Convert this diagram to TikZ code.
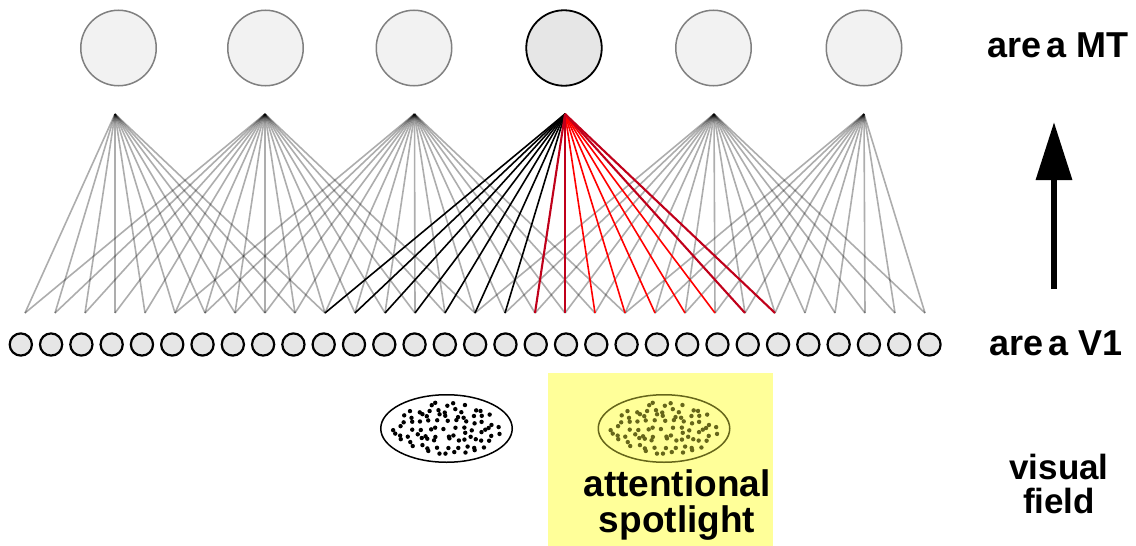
\documentclass[tikz,border=0pt]{standalone}
\usepackage{fontspec}
\setmainfont{Liberation Sans}
\usetikzlibrary{arrows.meta,shapes.geometric}
\definecolor{spotyellow}{HTML}{FFFF99}
\definecolor{olivedot}{HTML}{66661A}
\definecolor{deepred}{HTML}{C0001A}
\definecolor{mtgray}{HTML}{808080}
\definecolor{mtfill}{HTML}{F2F2F2}
\definecolor{selfill}{HTML}{E6E6E6}
\begin{document}
\begin{tikzpicture}[x=1pt,y=-1pt,
  mtcell/.style={circle,draw=mtgray,fill=mtfill,line width=1.5pt,minimum size=75.5pt,inner sep=0pt},
  mtsel/.style={mtcell,draw=black,fill=selfill,line width=1.8pt},
  vcell/.style={circle,draw=black,fill=selfill,line width=2.2pt,minimum size=22.2pt,inner sep=0pt},
  graylink/.style={draw=black,opacity=0.32,line width=1.6pt},
  blacklink/.style={draw=black,line width=1.6pt},
  redlink/.style={draw=red,line width=1.6pt},
  deeplink/.style={draw=deepred,line width=2.1pt},
  lab/.style={font=\fontsize{36}{36}\selectfont\bfseries,inner sep=0pt,align=center},
  rfield/.style={ellipse,draw,line width=1.5pt,minimum width=131.5pt,minimum height=67.5pt,inner sep=0pt},
  bigarrow/.style={line width=6.5pt,-{Triangle[length=58pt,width=35pt]}},
]
\useasboundingbox (0,0) rectangle (1136,546);

% spotlight background
\node[fill=spotyellow,minimum width=225pt,minimum height=173pt,inner sep=0pt,anchor=north west] (spot) at (548,373) {};

% MT cells
\node[mtcell] (mt1) at (118.5,48) {};
\node[mtcell] (mt2) at (265.5,48) {};
\node[mtcell] (mt3) at (414,48) {};
\node[mtsel]  (mt4) at (564,48) {};
\node[mtcell] (mt5) at (713.5,48) {};
\node[mtcell] (mt6) at (864,48) {};

% apexes of the convergence fans
\foreach \j/\x in {1/115,2/265,3/414.5,4/565,5/714,6/864}
  \coordinate (a\j) at (\x,114);
% V1 fan end points
\foreach \k in {0,...,30}
  \coordinate (b\k) at ({25+30*\k},313);

% V1 cells
\foreach \k in {0,...,30}
  \node[vcell] (v\k) at ({20.8+30.29*\k},344.5) {};

% gray fans
\foreach \j/\lo/\hi in {1/0/10,2/0/15,3/5/20,5/15/30,6/20/30}
  \foreach \k in {\lo,...,\hi}
    \draw[graylink] (a\j) -- (b\k);

% selected fan
\foreach \k in {10,...,16}
  \draw[blacklink] (a4) -- (b\k);
\foreach \k in {19,...,23}
  \draw[redlink] (a4) -- (b\k);
\foreach \k in {17,18,24,25}
  \draw[deeplink] (a4) -- (b\k);

% receptive fields
\node[rfield] (rf1) at (446.5,428.5) {};
\node[rfield,draw=olivedot] (rf2) at (664,428.5) {};
\pgfmathsetseed{5}
\foreach \gx in {-54,-45,...,54}{
  \foreach \gy in {-24,-18,...,24}{
    \pgfmathsetmacro\dx{\gx+3.5*rand}
    \pgfmathsetmacro\dy{\gy+2.5*rand}
    \pgfmathsetmacro\inside{(\dx/57)^2+(\dy/27)^2}
    \ifdim\inside pt<1pt
      \fill[black] ({446.5+\dx},{428.5+\dy}) circle (2.2pt);
      \fill[olivedot] ({664+\dx},{428.5+\dy}) circle (2.2pt);
    \fi
  }
}

% labels
\node[lab,anchor=base] (mtlab) at (1058,57) {are\hspace{5pt}a MT};
\node[lab,anchor=base] (v1lab) at (1056,355) {are\hspace{5pt}a V1};
\node[lab,font=\fontsize{35}{34}\selectfont\bfseries] (vflab) at (1059,484) {visual\\field};
\node[lab,font=\fontsize{37}{36}\selectfont\bfseries] (splab) at (677,505) {attentional\\spotlight};

% arrow
\coordinate (arrbot) at (1054,289);
\coordinate (arrtop) at (1054,122);
\draw[bigarrow] (arrbot) -- (arrtop);
\end{tikzpicture}
\end{document}
